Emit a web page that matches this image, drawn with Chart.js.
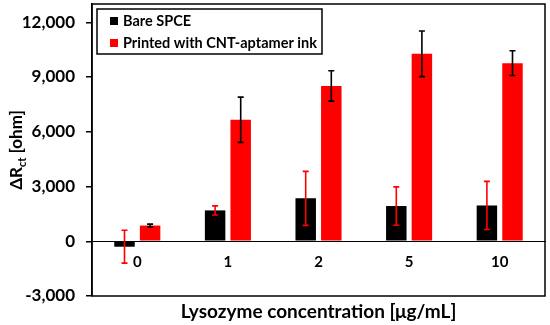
<!DOCTYPE html>
<html>
<head>
<meta charset="utf-8">
<script src="https://cdn.jsdelivr.net/npm/chart.js@4.4.1/dist/chart.umd.min.js"></script>
<style>
  body { margin: 0; background: #fff; }
  #wrap { width: 550px; height: 325px; }
</style>
</head>
<body>
<div id="wrap"><canvas id="deltaChart"></canvas></div>
<script>
    // Values
    var concentrations = ['0', '1', '2', '5', '10'];
    var bareValues = [-300, 1690, 2350, 1930, 1960];
    var bareErrors = [900, 250, 1480, 1050, 1320];
    var printedValues = [860, 6660, 8510, 10270, 9760];
    var printedErrors = [80, 1240, 830, 1250, 680];
    var yTicks = [-3000, 0, 3000, 6000, 9000, 12000];
    var xTitle = 'Lysozyme concentration [\u03bcg/mL]';

    var errors = [bareErrors, printedErrors];
    var errorColors = ['#ff0000', '#000000'];

    Chart.defaults.font.family = 'Lato';
    Chart.defaults.color = '#000';

    // error bars, drawn over the bars
    var errorBars = {
        id: 'errorBars',
        afterDatasetsDraw: function (chart) {
            var c = chart.ctx, y = chart.scales.y;
            chart.data.datasets.forEach(function (ds, i) {
                var meta = chart.getDatasetMeta(i);
                meta.data.forEach(function (bar, j) {
                    var v = ds.data[j], e = errors[i][j];
                    var top = y.getPixelForValue(v + e), bot = y.getPixelForValue(v - e);
                    c.save();
                    c.strokeStyle = errorColors[i];
                    c.lineWidth = 1.6;
                    c.beginPath();
                    c.moveTo(bar.x, top); c.lineTo(bar.x, bot);
                    c.moveTo(bar.x - 3, top); c.lineTo(bar.x + 3, top);
                    c.moveTo(bar.x - 3, bot); c.lineTo(bar.x + 3, bot);
                    c.stroke();
                    c.restore();
                });
            });
        }
    };

    // frame, legend box, x title and the y title with subscript
    var extras = {
        id: 'extras',
        afterDraw: function (chart) {
            var c = chart.ctx, a = chart.chartArea;
            c.save();
            c.strokeStyle = '#000';
            c.lineWidth = 1.5;
            c.strokeRect(a.left, a.top, a.right - a.left, a.bottom - a.top);

            // legend
            var lx = a.left + 5, ly = a.top + 5;
            c.fillStyle = '#fff';
            c.fillRect(lx, ly, 225, 45);
            c.strokeRect(lx, ly, 225, 45);
            c.font = 'bold 14.5px Lato';
            c.textBaseline = 'middle';
            chart.data.datasets.forEach(function (ds, i) {
                var cy = ly + 12 + i * 22;
                c.fillStyle = ds.backgroundColor;
                c.fillRect(lx + 13, cy - 4, 8, 8);
                c.fillStyle = '#000';
                c.fillText(ds.label, lx + 26, cy);
            });

            // x title, centred on the plot
            c.font = 'bold 19px Lato';
            c.textAlign = 'center';
            c.fillText(xTitle, (a.left + a.right) / 2, a.bottom + 16);
            c.textAlign = 'left';

            // y title
            var big = 'bold 17px Lato', small = 'bold 11px Lato';
            c.font = big; var w1 = c.measureText('\u0394R').width;
            var w3 = c.measureText(' [ohm]').width;
            c.font = small; var w2 = c.measureText('ct').width;
            var total = w1 + w2 + w3;
            c.translate(17, (a.top + a.bottom) / 2);
            c.rotate(-Math.PI / 2);
            c.textBaseline = 'middle';
            c.fillStyle = '#000';
            var x0 = -total / 2;
            c.font = big; c.fillText('\u0394R', x0, 0);
            c.font = small; c.fillText('ct', x0 + w1, 5);
            c.font = big; c.fillText(' [ohm]', x0 + w1 + w2, 0);
            c.restore();
        }
    };

    var ctx = document.getElementById('deltaChart').getContext('2d');

    var deltaChart = new Chart(ctx, {
        type: 'bar',
        data: {
            labels: concentrations,
            datasets: [{
                label: 'Bare SPCE',
                data: bareValues,
                backgroundColor: '#000000'
            }, {
                label: 'Printed with CNT-aptamer ink',
                data: printedValues,
                backgroundColor: '#ff0000'
            }]
        },
        options: {
            responsive: true,
            maintainAspectRatio: false,
            animation: false,
            categoryPercentage: 0.565,
            barPercentage: 0.8,
            layout: { padding: { left: 0, right: 5, top: 4, bottom: 29 } },
            plugins: {
                legend: { display: false },
                tooltip: { enabled: false }
            },
            scales: {
                x: {
                    position: { y: 0 },
                    afterFit: function (s) {
                        s.paddingTop = 0; s.paddingBottom = 0;
                        s.paddingLeft = 0; s.paddingRight = 0;
                    },
                    grid: { display: true, drawOnChartArea: false, drawTicks: false },
                    border: { color: '#000', width: 1 },
                    ticks: { padding: 12, font: { size: 15, weight: 'bold' } }
                },
                y: {
                    min: -3000,
                    max: 13000,
                    afterBuildTicks: function (s) {
                        s.ticks = yTicks.map(function (v) { return { value: v }; });
                    },
                    afterFit: function (s) {
                        s.width = 92;
                        s.paddingTop = 0; s.paddingBottom = 0;
                    },
                    grid: { drawOnChartArea: false, drawTicks: true, tickLength: 6, color: '#000', lineWidth: 1.5 },
                    border: { color: '#000', width: 1.5 },
                    ticks: {
                        padding: 11,
                        font: { size: 17, weight: 'bold' },
                        callback: function (v) { return v.toLocaleString('en-US'); }
                    }
                }
            }
        },
        plugins: [errorBars, extras]
    });
</script>
</body>
</html>
